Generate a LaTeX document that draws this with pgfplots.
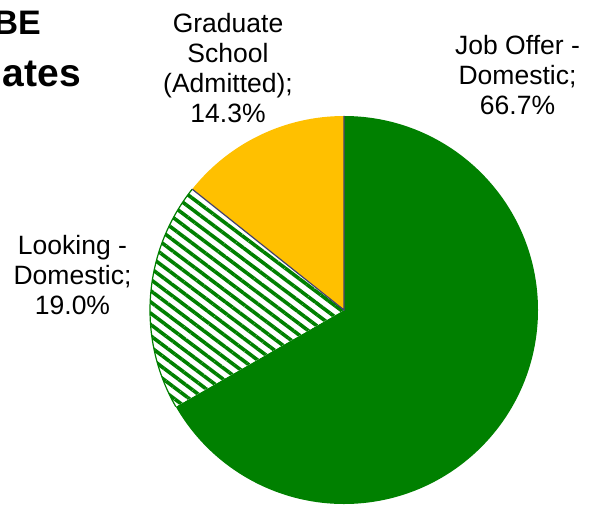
\documentclass[border=0pt]{standalone}
\usepackage{pgfplots}
\usepackage{pgfplotstable}
\pgfplotsset{compat=1.18}
\usepackage{fontspec}
\setmainfont{Liberation Sans}
\usetikzlibrary{patterns.meta}
\definecolor{jobgreen}{HTML}{008000}
\definecolor{gold}{HTML}{FFC000}
\definecolor{edge}{HTML}{404070}
\pgfplotstableread{
label value
Job 66.7
Looking 19.0
Grad 14.3
}\piedata
\begin{document}
\begin{tikzpicture}
\pgfplotstablegetelem{0}{value}\of\piedata \let\vA\pgfplotsretval
\pgfplotstablegetelem{1}{value}\of\piedata \let\vB\pgfplotsretval
\pgfplotstablegetelem{2}{value}\of\piedata \let\vC\pgfplotsretval
\pgfmathsetmacro\aA{90-3.6*\vA}
\pgfmathsetmacro\aB{\aA-3.6*\vB}
\pgfmathsetmacro\aC{\aB-3.6*\vC}
\useasboundingbox (0,0) rectangle (601pt,504pt);
\begin{axis}[x=1pt,y=1pt,xmin=0,xmax=601,ymin=0,ymax=504,hide axis,scale only axis,
  clip=false]
\addplot[draw=none] coordinates {(0,0) (601,504)};
% Job offer slice
\fill[jobgreen] (axis cs:344,194) -- ++(90:194pt) arc[start angle=90,end angle=\aA,radius=194pt] -- cycle;
% Looking slice (hatched)
\fill[white] (axis cs:344,194) -- ++(\aA:194pt) arc[start angle=\aA,end angle=\aB,radius=194pt] -- cycle;
\fill[pattern={Lines[angle=-37,distance=9pt,line width=3.6pt]},pattern color=jobgreen] (axis cs:344,194) -- ++(\aA:194pt) arc[start angle=\aA,end angle=\aB,radius=194pt] -- cycle;
\draw[jobgreen,line width=1.2pt] (axis cs:344,194) ++(\aA:194pt) arc[start angle=\aA,end angle=\aB,radius=194pt];
% Graduate slice
\fill[gold] (axis cs:344,194) -- ++(\aB:194pt) arc[start angle=\aB,end angle=\aC,radius=194pt] -- cycle;
\draw[edge,line width=1.2pt] (axis cs:344,194) ++(\aB:194pt) -- (axis cs:344,194) -- ++(90:194pt);
% labels
\node[font=\fontsize{26.5}{30}\selectfont,align=center,anchor=north,inner sep=0pt] at (axis cs:228,491) {Graduate\\School\\(Admitted);\\14.3\%};
\node[font=\fontsize{26.5}{30}\selectfont,align=center,anchor=north,inner sep=0pt] at (axis cs:517.5,469) {Job Offer -\\Domestic;\\66.7\%};
\node[font=\fontsize{26.5}{30}\selectfont,align=center,anchor=north,inner sep=0pt] at (axis cs:72.5,269) {Looking -\\Domestic;\\19.0\%};
\node[font=\bfseries\fontsize{34}{38}\selectfont,anchor=base east,inner sep=0pt] at (axis cs:41,469) {ChBE};
\node[font=\bfseries\fontsize{39}{44}\selectfont,anchor=base east,inner sep=0pt] at (axis cs:81,417) {Graduates};
\end{axis}
\end{tikzpicture}
\end{document}
